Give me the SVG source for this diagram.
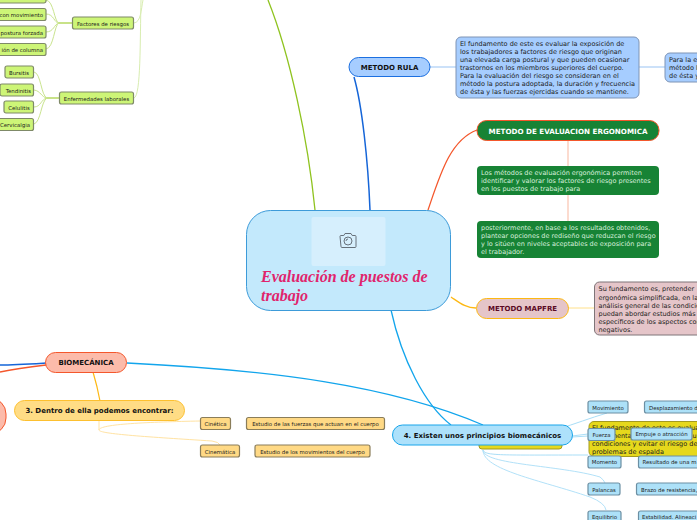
<svg xmlns="http://www.w3.org/2000/svg" width="697" height="520" viewBox="0 0 697 520">
<style>
text{font-family:"DejaVu Sans","Verdana",sans-serif;font-size:6.5px;fill:#1c1c1c}
.t{font-size:5.4px}
.b{font-weight:bold;font-size:7px;text-anchor:middle;fill:#111}
.m{text-anchor:middle}
.w{fill:#d8f0de}
.r{font-family:"Liberation Serif",serif;font-size:16px;font-weight:bold;font-style:italic;fill:#e0246c}
.g rect{fill:#cdf577;stroke:#7f8a68;stroke-width:1.2}
.o rect{fill:#ffd985;stroke:#8a7d5a;stroke-width:1.2}
.c rect{fill:#ade1f8;stroke:#6c8fa3;stroke-width:1.2}
.line{fill:none}
</style>
<rect width="697" height="520" fill="#fff"/>
<g id="connectors" class="line">
<path d="M268 0C290 55 308 140 315 210" stroke="#8fc31f" stroke-width="1.3"/>
<path d="M354 77C362 105 368 160 370 210" stroke="#1565d8" stroke-width="1.5"/>
<path d="M428 210C440 175 450 140 477 130" stroke="#f4572c" stroke-width="1.3"/>
<path d="M451 297C460 303 466 308 476 308" stroke="#fdb813" stroke-width="1.3"/>
<path d="M391 310C402 360 425 405 451 425" stroke="#12a5ec" stroke-width="1.3"/>
<path d="M127 363C270 370 390 385 483 425" stroke="#12a5ec" stroke-width="1.3"/>
<path d="M46 363C30 364 15 365 0 365" stroke="#1565d8" stroke-width="1.5"/>
<path d="M46 365C30 367 15 369 0 372" stroke="#f4572c" stroke-width="1.3"/>
<path d="M93 372C96 382 98 390 100 401" stroke="#fdb813" stroke-width="1.2"/>
<path d="M430 67H456M639 67H665" stroke="#bcd8f8" stroke-width="1.5"/>
<path d="M568 141V166M568 195V221" stroke="#fbcfc0" stroke-width="1.5"/>
<path d="M568 308H594" stroke="#ffe08a" stroke-width="1"/>
<path d="M99 421V430C99 424 150 422 200 421M99 430C99 434 150 437 212 441Q219 442 220 445" stroke="#ffe3a3" stroke-width="1"/>
<path d="M134 23C141 22 141 10 143 0M134 98C141 96 140 40 141 0" stroke="#d8edb0" stroke-width="1"/>
<path d="M72 23H59" stroke="#a3cf3a" stroke-width="1.2"/>
<path d="M47 98H59" stroke="#a3cf3a" stroke-width="1.2"/>
<path d="M59 23C54 22 54 1 46 0M59 23C54 23 54 14 46 14M59 23C54 24 54 32 46 32M59 23C54 25 54 48 46 49" stroke="#c9e48e" stroke-width="1"/>
<path d="M47 98C41 96 41 73 34 72M47 98C41 97 41 91 34 90M47 98C41 99 41 107 34 107M47 98C41 101 41 122 34 124" stroke="#c9e48e" stroke-width="1"/>
<path d="M558 429C575 424 590 418 607 413" stroke="#a9def7" stroke-width="1"/>
<path d="M572 436L588 434M572 437L588 436" stroke="#a9def7" stroke-width="1"/>
<path d="M483 450C485 456 500 455 588 455" stroke="#a9def7" stroke-width="1"/>
<path d="M483 450C483 465 560 465 600 477Q604 480 605 483M483 450C483 470 540 480 590 497Q605 503 606 510" stroke="#a9def7" stroke-width="0.9"/>
</g>
<g id="node-root">
<rect x="246.500" y="210.500" width="204" height="100" rx="24" fill="#c3e9fc" stroke="#3d9bd9"/>
<rect x="311.500" y="217" width="74" height="49" rx="2" fill="#d6effd"/>
<g fill="none" stroke="#66707a" stroke-width="1">
<path d="M340 236.500q0-1 1-1h2.800l1.200-2h6l1.200 2h2.800q1 0 1 1v10q0 1-1 1h-13q-1 0-1-1z"/>
<circle cx="348" cy="241" r="4"/><path d="M348 239a2 2 0 0 0-2 2"/></g>
<text x="261" y="282" class="r">Evaluación de puestos de</text>
<text x="261" y="301" class="r">trabajo</text>
</g>
<g id="node-rula">
<rect x="349" y="57.500" width="81" height="19" rx="9.500" fill="#a6cdff" stroke="#1c6fe0"/>
<text x="389.500" y="70" class="b">METODO RULA</text>
</g>
<g id="node-rula-text">
<rect x="456" y="37" width="183" height="61" rx="5" fill="#a6cdff" stroke="#7e94b5"/>
<text x="460" y="46">El fundamento de este es evaluar la exposición de</text>
<text x="460" y="54">los trabajadores a factores de riesgo que originan</text>
<text x="460" y="62">una elevada carga postural y que pueden ocasionar</text>
<text x="460" y="70">trastornos en los miembros superiores del cuerpo.</text>
<text x="460" y="78">Para la evaluación del riesgo se consideran en el</text>
<text x="460" y="86">método la postura adoptada, la duración y frecuencia</text>
<text x="460" y="94">de ésta y las fuerzas ejercidas cuando se mantiene.</text>
</g>
<g id="node-rula-text2">
<rect x="665" y="53" width="50" height="29" rx="5" fill="#a6cdff" stroke="#7e94b5"/>
<text x="669" y="62">Para la e</text>
<text x="669" y="70">método l</text>
<text x="669" y="78">de ésta y</text>
</g>
<g id="node-ergo">
<rect x="477" y="120.500" width="182" height="20" rx="9.500" fill="#178335" stroke="#f4572c"/>
<text x="568" y="133.500" class="b" style="fill:#fff;font-size:7.150px">METODO DE EVALUACION ERGONOMICA</text>
</g>
<g id="node-ergo1">
<rect x="477" y="166" width="182" height="29" rx="4" fill="#178335"/>
<text x="481" y="175" class="w">Los métodos de evaluación ergonómica permiten</text>
<text x="481" y="183" class="w">identificar y valorar los factores de riesgo presentes</text>
<text x="481" y="191" class="w">en los puestos de trabajo para</text>
</g>
<g id="node-ergo2">
<rect x="477" y="221" width="182" height="37" rx="4" fill="#178335"/>
<text x="481" y="230" class="w">posteriormente, en base a los resultados obtenidos,</text>
<text x="481" y="238" class="w">plantear opciones de rediseño que reduzcan el riesgo</text>
<text x="481" y="246" class="w">y lo sitúen en niveles aceptables de exposición para</text>
<text x="481" y="254" class="w">el trabajador.</text>
</g>
<g id="node-mapfre">
<rect x="476.500" y="298.500" width="92" height="20" rx="10" fill="#e5c5c9" stroke="#fdb813"/>
<text x="522.500" y="311" class="b" style="fill:#5a0a25">METODO MAPFRE</text>
</g>
<g id="node-mapfre-text">
<rect x="594.500" y="282" width="130" height="53" rx="5" fill="#e5c5c9" stroke="#7f7578"/>
<text x="598.500" y="291">Su fundamento es, pretender</text>
<text x="598.500" y="299.500">ergonómica simplificada, en la</text>
<text x="598.500" y="308">análisis general de las condicio</text>
<text x="598.500" y="316">puedan abordar estudios más</text>
<text x="598.500" y="324">específicos de los aspectos con</text>
<text x="598.500" y="332">negativos.</text>
</g>
<g id="node-biomecanica">
<rect x="45.500" y="352.500" width="81" height="20" rx="10" fill="#fcbbaa" stroke="#f4572c"/>
<text x="86" y="365" class="b">BIOMECÁNICA</text>
</g>
<g id="node-left-circle">
<rect x="-40" y="398" width="46" height="36" rx="16" fill="#fcbbaa" stroke="#f4572c"/>
</g>
<g id="node-dentro">
<rect x="14.500" y="400.500" width="170" height="20" rx="10" fill="#ffdc85" stroke="#fdc02f"/>
<text x="99.500" y="413" class="b">3. Dentro de ella podemos encontrar:</text>
</g>
<g id="node-cinetica" class="o"><rect x="200.500" y="417.500" width="30" height="12" rx="2"/><text x="215.500" y="426" class="t m">Cinética</text></g>
<g id="node-cinetica-d" class="o"><rect x="246.500" y="417.500" width="138" height="12" rx="2"/><text x="315.500" y="426" class="t m">Estudio de las fuerzas que actuan en el cuerpo</text></g>
<g id="node-cinematica" class="o"><rect x="200.500" y="445" width="39" height="12" rx="2"/><text x="220" y="453.500" class="t m">Cinemática</text></g>
<g id="node-cinematica-d" class="o"><rect x="255" y="445" width="115" height="12" rx="2"/><text x="312.500" y="453.500" class="t m">Estudio de los movimientos del cuerpo</text></g>
<g id="node-yellow">
<rect x="479" y="440" width="83" height="9" rx="3" fill="#e6d81c" stroke="#a39a20"/>
</g>
<g id="node-yellow-text">
<rect x="589" y="421.500" width="140" height="35" rx="5" fill="#e6d81c" stroke="#a39a20"/>
<text x="592" y="430">El fundamento de este es evaluar</text>
<text x="592" y="438">fundamentalmente</text>
<text x="692.500" y="438">u</text>
<text x="592" y="446">condiciones y evitar el riesgo de</text>
<text x="592" y="454">problemas de espalda</text>
</g>
<g id="node-principios">
<rect x="392.500" y="425" width="180" height="20" rx="10" fill="#ade1fb" stroke="#18a5ea"/>
<text x="482.500" y="438" class="b">4. Existen unos principios biomecánicos</text>
</g>
<g id="node-mov" class="c"><rect x="588" y="401" width="40" height="12" rx="2"/><text x="608" y="409.500" class="t m">Movimiento</text></g>
<g id="node-mov-d" class="c"><rect x="644.500" y="401" width="80" height="12" rx="2"/><text x="649" y="409.500" class="t">Desplazamiento d</text></g>
<g id="node-fuerza" class="c"><rect x="588" y="428.500" width="27" height="12" rx="2"/><text x="601.500" y="436.500" class="t m">Fuerza</text></g>
<g id="node-fuerza-d" class="c"><rect x="631" y="428" width="61" height="12" rx="2"/><text x="661.500" y="436" class="t m">Empuje o atracción</text></g>
<g id="node-momento" class="c"><rect x="588" y="456" width="33" height="12" rx="2"/><text x="604.500" y="464" class="t m">Momento</text></g>
<g id="node-momento-d" class="c"><rect x="638.500" y="456" width="80" height="12" rx="2"/><text x="642.500" y="464" class="t">Resultado de una m</text></g>
<g id="node-palancas" class="c"><rect x="588" y="483" width="32" height="12" rx="2"/><text x="604" y="491.500" class="t m">Palancas</text></g>
<g id="node-palancas-d" class="c"><rect x="636.500" y="483" width="80" height="12" rx="2"/><text x="641" y="491.500" class="t">Brazo de resistencia,</text></g>
<g id="node-equilibrio" class="c"><rect x="588" y="511" width="33" height="12" rx="2"/><text x="604.500" y="519" class="t m">Equilibrio</text></g>
<g id="node-equilibrio-d" class="c"><rect x="638.500" y="511" width="80" height="12" rx="2"/><text x="642" y="519" class="t">Estabilidad. Alineaci</text></g>
<g id="node-f0" class="g"><rect x="-40" y="-9" width="86" height="12" rx="2"/></g>
<g id="node-f1" class="g"><rect x="-40" y="8.500" width="86" height="12" rx="2"/><text x="43" y="17" class="t" text-anchor="end">con movimiento</text></g>
<g id="node-f2" class="g"><rect x="-40" y="26" width="86" height="12" rx="2"/><text x="43" y="34.500" class="t" text-anchor="end">postura forzada</text></g>
<g id="node-f3" class="g"><rect x="-40" y="43.500" width="86" height="12" rx="2"/><text x="43" y="52" class="t" text-anchor="end">ión de columna</text></g>
<g id="node-factores" class="g"><rect x="72.500" y="17" width="61" height="12" rx="2"/><text x="103" y="25.500" class="t m">Factores de riesgos</text></g>
<g id="node-enf" class="g"><rect x="59.500" y="92" width="74" height="12" rx="2"/><text x="96.500" y="100.500" class="t m">Enfermedades laborales</text></g>
<g id="node-bursitis" class="g"><rect x="5" y="66" width="28.500" height="12" rx="2"/><text x="19" y="74.500" class="t m">Bursitis</text></g>
<g id="node-tendinitis" class="g"><rect x="0" y="84" width="33.500" height="12" rx="2"/><text x="31" y="92.500" class="t" text-anchor="end">Tendinitis</text></g>
<g id="node-celulitis" class="g"><rect x="4" y="101" width="29.500" height="12" rx="2"/><text x="19" y="109.500" class="t m">Celulitis</text></g>
<g id="node-cervicalgia" class="g"><rect x="-6" y="118.500" width="39.500" height="12" rx="2"/><text x="30" y="127" class="t" text-anchor="end">Cervicalgia</text></g>
</svg>
